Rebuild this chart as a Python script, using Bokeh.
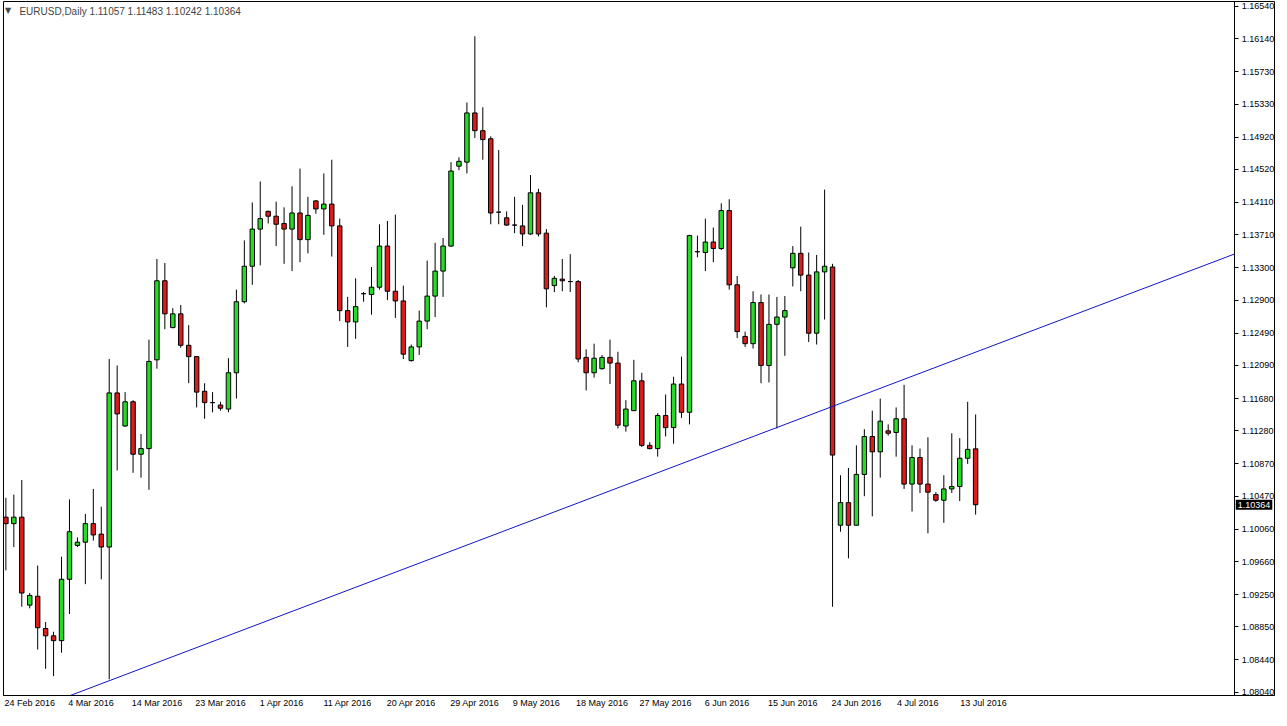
from bokeh.plotting import figure
from bokeh.models import ColumnDataSource, FixedTicker, Range1d, Label, PrintfTickFormatter
from bokeh.embed import file_html
from bokeh.resources import INLINE

# ---- data (EURUSD daily) ----
opens = [1.1021, 1.1013, 1.1021, 1.0912, 1.0923, 1.0883, 1.0874, 1.0868, 1.0944, 1.0986,
         1.0990, 1.1013, 1.1000, 1.0984, 1.1175, 1.1134, 1.1164, 1.1099, 1.1106, 1.1216,
         1.1314, 1.1256, 1.1273, 1.1234, 1.1220, 1.1177, 1.1163, 1.1160, 1.1155, 1.1200,
         1.1288, 1.1332, 1.1378, 1.1400, 1.1394, 1.1385, 1.1378, 1.1398, 1.1365, 1.1413,
         1.1403, 1.1409, 1.1382, 1.1277, 1.1263, 1.1298, 1.1297, 1.1306, 1.1357, 1.1301,
         1.1289, 1.1215, 1.1232, 1.1264, 1.1295, 1.1326, 1.1357, 1.1456, 1.1461, 1.1522,
         1.1500, 1.1490, 1.1399, 1.1392, 1.1383, 1.1382, 1.1372, 1.1423, 1.1373, 1.1308,
         1.1316, 1.1313, 1.1313, 1.1219, 1.1200, 1.1205, 1.1219, 1.1212, 1.1134, 1.1153,
         1.1190, 1.1110, 1.1106, 1.1147, 1.1132, 1.1186, 1.1151, 1.1350, 1.1349, 1.1362,
         1.1354, 1.1401, 1.1309, 1.1245, 1.1236, 1.1287, 1.1209, 1.1260, 1.1269, 1.1330,
         1.1348, 1.1321, 1.1249, 1.1325, 1.1331, 1.1011, 1.1039, 1.1011, 1.1074, 1.1121,
         1.1102, 1.1128, 1.1126, 1.1143, 1.1062, 1.1095, 1.1062, 1.1049, 1.1042, 1.1056,
         1.1059, 1.1094, 1.11057]
highs = [1.1045, 1.1049, 1.1067, 1.0927, 1.0961, 1.0891, 1.0879, 1.0972, 1.1043, 1.0996,
         1.1025, 1.1056, 1.1034, 1.1217, 1.1209, 1.1176, 1.1166, 1.1124, 1.1241, 1.1341,
         1.1336, 1.1280, 1.1284, 1.1259, 1.1220, 1.1187, 1.1176, 1.1164, 1.1218, 1.1303,
         1.1364, 1.1411, 1.1437, 1.1401, 1.1412, 1.1405, 1.1431, 1.1453, 1.1418, 1.1414,
         1.1447, 1.1464, 1.1391, 1.1294, 1.1317, 1.1300, 1.1331, 1.1384, 1.1388, 1.1396,
         1.1308, 1.1235, 1.1277, 1.1339, 1.1361, 1.1367, 1.1461, 1.1467, 1.1535, 1.1617,
         1.1529, 1.1493, 1.1476, 1.1400, 1.1418, 1.1408, 1.1445, 1.1428, 1.1378, 1.1320,
         1.1341, 1.1347, 1.1315, 1.1229, 1.1236, 1.1222, 1.1241, 1.1226, 1.1166, 1.1216,
         1.1200, 1.1114, 1.1150, 1.1173, 1.1195, 1.1220, 1.1371, 1.1370, 1.1391, 1.1380,
         1.1410, 1.1415, 1.1320, 1.1251, 1.1301, 1.1297, 1.1297, 1.1294, 1.1295, 1.1357,
         1.1381, 1.1349, 1.1346, 1.1427, 1.1335, 1.1073, 1.1082, 1.1110, 1.1130, 1.1153,
         1.1168, 1.1136, 1.1157, 1.1185, 1.1110, 1.1106, 1.1120, 1.1052, 1.1073, 1.1125,
         1.1119, 1.1164, 1.11483]
lows = [1.0955, 1.0984, 1.0910, 1.0908, 1.0857, 1.0833, 1.0824, 1.0853, 1.0901, 1.0984,
        1.0938, 1.0992, 1.0944, 1.0820, 1.1079, 1.1133, 1.1076, 1.1070, 1.1055, 1.1205,
        1.1254, 1.1255, 1.1231, 1.1187, 1.1157, 1.1143, 1.1151, 1.1153, 1.1151, 1.1168,
        1.1286, 1.1309, 1.1333, 1.1385, 1.1357, 1.1335, 1.1326, 1.1337, 1.1348, 1.1397,
        1.1371, 1.1344, 1.1264, 1.1232, 1.1242, 1.1288, 1.1272, 1.1303, 1.1290, 1.1268,
        1.1217, 1.1214, 1.1222, 1.1254, 1.1269, 1.1294, 1.1356, 1.1451, 1.1447, 1.1491,
        1.1464, 1.1384, 1.1384, 1.1382, 1.1373, 1.1357, 1.1371, 1.1369, 1.1281, 1.1300,
        1.1301, 1.1300, 1.1213, 1.1178, 1.1194, 1.1204, 1.1186, 1.1131, 1.1127, 1.1153,
        1.1108, 1.1105, 1.1096, 1.1121, 1.1112, 1.1144, 1.1136, 1.1343, 1.1326, 1.1337,
        1.1352, 1.1303, 1.1243, 1.1232, 1.1230, 1.1187, 1.1188, 1.1131, 1.1221, 1.1307,
        1.1301, 1.1238, 1.1235, 1.1266, 1.0910, 1.1003, 1.0970, 1.1011, 1.1047, 1.1022,
        1.1070, 1.1122, 1.1096, 1.1056, 1.1028, 1.1051, 1.1001, 1.1040, 1.1014, 1.1051,
        1.1041, 1.1087, 1.10242]
closes = [1.1013, 1.1021, 1.0927, 1.0924, 1.0884, 1.0874, 1.0868, 1.0944, 1.1003, 1.0990,
          1.1013, 1.0999, 1.0984, 1.1175, 1.1149, 1.1164, 1.1099, 1.1106, 1.1214, 1.1314,
          1.1273, 1.1273, 1.1234, 1.1220, 1.1176, 1.1163, 1.1163, 1.1156, 1.1200, 1.1288,
          1.1332, 1.1378, 1.1391, 1.1394, 1.1384, 1.1378, 1.1398, 1.1365, 1.1395, 1.1403,
          1.1409, 1.1382, 1.1277, 1.1263, 1.1282, 1.1298, 1.1306, 1.1357, 1.1301, 1.1289,
          1.1223, 1.1232, 1.1264, 1.1295, 1.1326, 1.1357, 1.1450, 1.1462, 1.1522, 1.1500,
          1.1489, 1.1398, 1.1399, 1.1383, 1.1383, 1.1372, 1.1423, 1.1372, 1.1304, 1.1317,
          1.1314, 1.1313, 1.1217, 1.1200, 1.1218, 1.1219, 1.1212, 1.1135, 1.1155, 1.1190,
          1.1110, 1.1106, 1.1147, 1.1132, 1.1186, 1.1151, 1.1370, 1.1350, 1.1362, 1.1354,
          1.1401, 1.1309, 1.1251, 1.1236, 1.1287, 1.1209, 1.1260, 1.1269, 1.1277, 1.1348,
          1.1321, 1.1249, 1.1325, 1.1332, 1.1098, 1.1039, 1.1011, 1.1074, 1.1121, 1.1102,
          1.1140, 1.1125, 1.1143, 1.1062, 1.1095, 1.1062, 1.1052, 1.1042, 1.1056, 1.1059,
          1.1094, 1.1105, 1.10364]

date_labels = ["24 Feb 2016", "4 Mar 2016", "14 Mar 2016", "23 Mar 2016", "1 Apr 2016",
               "11 Apr 2016", "20 Apr 2016", "29 Apr 2016", "9 May 2016", "18 May 2016",
               "27 May 2016", "6 Jun 2016", "15 Jun 2016", "24 Jun 2016", "4 Jul 2016",
               "13 Jul 2016"]
price_ticks = [1.16540, 1.16140, 1.15730, 1.15330, 1.14920, 1.14520, 1.14110, 1.13710,
               1.13300, 1.12900, 1.12490, 1.12090, 1.11680, 1.11280, 1.10870, 1.10470,
               1.10060, 1.09660, 1.09250, 1.08850, 1.08440, 1.08040]
trend_bars = [8.1, 154.6]
trend_prices = [1.0800, 1.13473]
header_text = "EURUSD,Daily  1.11057 1.11483 1.10242 1.10364"
last_price = 1.10364

# ---- layout constants ----
AXIS_X = 154.6          # bar position of the price scale
PX_PER_BAR = 7.95
CHAR_W = 4.55           # approx px per character of 9px date labels

# ---- derived ----
n = len(opens)
idx = list(range(n))
tops = [max(o, c) for o, c in zip(opens, closes)]
bots = [min(o, c) for o, c in zip(opens, closes)]
UP, DN = "#26da26", "#da1c1c"
colors = [UP if c >= o else DN for o, c in zip(opens, closes)]
src = ColumnDataSource(dict(x=idx, o=opens, h=highs, l=lows, c=closes,
                            top=tops, bot=bots, color=colors))

p = figure(width=1277, height=710, output_backend="svg", toolbar_location=None,
           x_range=Range1d(-0.3, 159.6), y_range=Range1d(1.0800, 1.16601),
           y_axis_location="right",
           min_border_left=3, min_border_top=1, min_border_right=3, min_border_bottom=0)
p.xgrid.visible = False
p.ygrid.visible = False
p.outline_line_color = "black"
p.outline_line_width = 1
p.background_fill_color = "white"
p.border_fill_color = "white"

# candles
p.segment(x0="x", y0="l", x1="x", y1="h", source=src, line_color="black", line_width=1)
p.vbar(x="x", width=0.56, top="top", bottom="bot", source=src,
       fill_color="color", line_color="black", line_width=1)

# trend line (drawn over candles)
p.line(trend_bars, trend_prices, line_color="#1414c8", line_width=1)

# price scale: right axis pinned at the chart's right edge
ya = p.yaxis[0]
ya.fixed_location = AXIS_X
ya.ticker = FixedTicker(ticks=price_ticks)
ya.formatter = PrintfTickFormatter(format="%.5f")
ya.major_tick_in = 0
ya.major_tick_out = 4
ya.minor_tick_out = 0
ya.minor_tick_in = 0
ya.axis_line_color = "black"
ya.major_tick_line_color = "black"
ya.major_label_text_font = "Liberation Sans"
ya.major_label_text_font_size = "9px"
ya.major_label_text_color = "black"
ya.major_label_standoff = 3

# time scale: labels start at their bar (offset the centred label by half its width)
xa = p.xaxis[0]
xt = [i * 8 + len(lab) * CHAR_W / 2 / PX_PER_BAR - 0.15 for i, lab in enumerate(date_labels)]
xa.ticker = FixedTicker(ticks=xt)
xa.major_label_overrides = {t: lab for t, lab in zip(xt, date_labels)}
xa.major_tick_in = 0
xa.major_tick_out = 0
xa.minor_tick_out = 0
xa.minor_tick_in = 0
xa.axis_line_color = "black"
xa.major_label_text_font = "Liberation Sans"
xa.major_label_text_font_size = "9px"
xa.major_label_text_color = "black"
xa.major_label_standoff = 2
xa.axis_label_standoff = 0

# header
p.add_layout(Label(x=-0.1, y=1.16485, text="\u25bc", text_font="DejaVu Sans",
                   text_font_size="8px", text_baseline="middle", text_align="left"))
p.add_layout(Label(x=1.7, y=1.1648, text=header_text, text_font="Liberation Sans",
                   text_font_size="10px", text_baseline="middle", text_align="left"))

# current price box on the price scale
p.add_layout(Label(x=AXIS_X, y=last_price, x_offset=1, text="%.5f" % last_price,
                   text_color="white", text_font="Liberation Sans", text_font_size="9px",
                   text_baseline="middle", text_align="left",
                   background_fill_color="black", padding=2))

open("out.html", "w").write(file_html(p, INLINE))
